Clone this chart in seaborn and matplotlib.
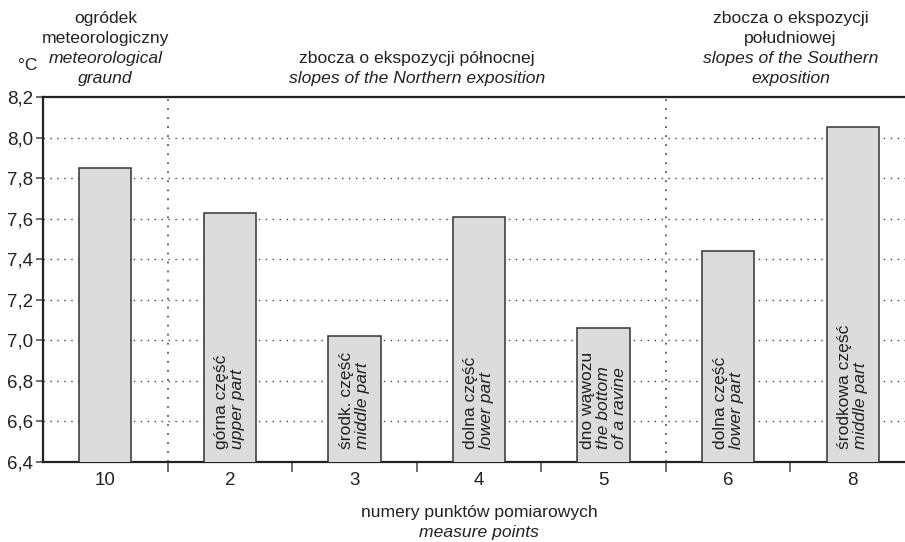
import matplotlib
matplotlib.use('Agg')
import matplotlib.pyplot as plt
import seaborn as sns
import pandas as pd

points = ['10', '2', '3', '4', '5', '6', '8']
temps = [7.85, 7.63, 7.02, 7.61, 7.06, 7.44, 8.05]
yticks = [6.4, 6.6, 6.8, 7.0, 7.2, 7.4, 7.6, 7.8, 8.0, 8.2]
ytick_labels = ['6,4', '6,6', '6,8', '7,0', '7,2', '7,4', '7,6', '7,8', '8,0', '8,2']

# bar captions: (polish, english lines)
bar_pl = [None, 'górna część', 'środk. część', 'dolna część', 'dno wąwozu', 'dolna część', 'środkowa część']
bar_en = [None, ['upper part'], ['middle part'], ['lower part'], ['the bottom', 'of a ravine'],
          ['lower part'], ['middle part']]

groups = [
    (0, ['ogródek', 'meteorologiczny'], ['meteorological', 'graund']),
    (2.5, ['zbocza o ekspozycji północnej'], ['slopes of the Northern exposition']),
    (5.5, ['zbocza o ekspozycji', 'południowej'], ['slopes of the Southern', 'exposition']),
]

df = pd.DataFrame({'point': points, 'temp': temps})

sns.set_style('white')
plt.rcParams['font.family'] = ['Liberation Sans', 'DejaVu Sans']
fs = 12.6
tfs = 13.5

fig = plt.figure(figsize=(9.05, 5.42), dpi=100)
ax = fig.add_axes([43 / 905, 1 - 462 / 542, (905 - 43) / 905, (462 - 97) / 542])

sns.barplot(data=df, x='point', y='temp', order=points, width=0.42,
            color='#dcdcdc', edgecolor='#333333', linewidth=1.1,
            saturation=1, ax=ax, zorder=3)

ax.set_ylim(6.4, 8.2)
ax.set_xlim(-0.5, 6.42)
ax.set_yticks(yticks)
ax.set_yticklabels(ytick_labels, fontsize=tfs, color='#222222')
ax.set_xticks(range(len(points)))
ax.set_xticklabels(points, fontsize=tfs, color='#222222')
ax.tick_params(axis='x', length=0, pad=7)
ax.tick_params(axis='y', direction='out', length=5, width=1.2, color='#555555', left=True, pad=2)
ax.set_xticks([i + 0.5 for i in range(6)], minor=True)
ax.tick_params(axis='x', which='minor', direction='out', length=7, width=1.2, color='#555555', bottom=True)

for y in yticks[1:-1]:
    ax.axhline(y, color='#444444', linestyle=(0, (1, 4)), linewidth=1, zorder=1)
for x in [0.5, 4.5]:
    ax.axvline(x, color='#555555', linestyle=(0, (1, 4)), linewidth=1.3, zorder=1)

for side in ['top', 'left', 'bottom']:
    ax.spines[side].set_color('#222222')
    ax.spines[side].set_linewidth(1.6)
ax.spines['right'].set_visible(False)

ax.set_xlabel('')
ax.set_ylabel('')

# rotated captions inside bars
for i, (pl, en) in enumerate(zip(bar_pl, bar_en)):
    if pl is None:
        continue
    lines = [(pl, 'normal')] + [(t, 'italic') for t in en]
    n = len(lines)
    spacing = 16
    for k, (t, st) in enumerate(lines):
        dx = (k - (n - 1) / 2) * spacing
        ax.annotate(t, xy=(i, 6.4), xycoords='data', xytext=(dx, 13),
                    textcoords='offset pixels', rotation=90, rotation_mode='anchor',
                    ha='left', va='center', fontsize=fs, style=st, color='#222222',
                    zorder=5)

# group headers above the plot
for x, pl, en in groups:
    lines = [(t, 'normal') for t in pl] + [(t, 'italic') for t in en]
    n = len(lines)
    for k, (t, st) in enumerate(lines):
        dy = 19 + (n - 1 - k) * 20
        ax.annotate(t, xy=(x, 1), xycoords=('data', 'axes fraction'), xytext=(0, dy),
                    textcoords='offset pixels', ha='center', va='center',
                    fontsize=fs, style=st, color='#222222', annotation_clip=False)

fig.text(28 / 905, 1 - 65 / 542, '°C', ha='center', va='center', fontsize=fs, color='#222222')
fig.text(479 / 905, 1 - 513 / 542, 'numery punktów pomiarowych', ha='center', va='center',
         fontsize=fs, color='#222222')
fig.text(479 / 905, 1 - 532 / 542, 'measure points', ha='center', va='center',
         fontsize=fs, style='italic', color='#222222')

fig.savefig('out.png', dpi=100)
